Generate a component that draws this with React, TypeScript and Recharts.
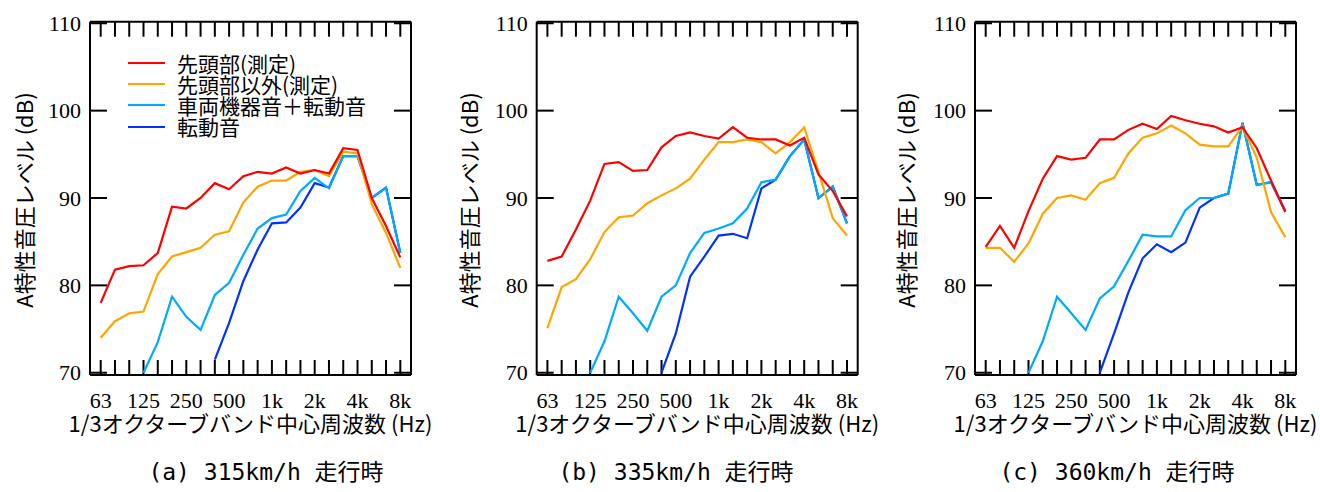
import React from 'react';
import { LineChart, Line, XAxis, YAxis, Legend, ReferenceLine } from 'recharts';

const BANDS = ['63', '80', '100', '125', '160', '200', '250', '315', '400', '500', '630', '800', '1k', '1.25k', '1.6k', '2k', '2.5k', '3.15k', '4k', '5k', '6.3k', '8k'];
const Y_TICKS = [70, 80, 90, 100, 110];

const SERIES_NAMES = ['先頭部(測定)', '先頭部以外(測定)', '車両機器音＋転動音', '転動音'];
const SERIES_COLORS = ['#FF0000', '#FFA500', '#00AAFF', '#0033FF'];

const P1_RED = [78.0, 81.8, 82.2, 82.3, 83.7, 89.0, 88.8, 90.0, 91.7, 91.0, 92.5, 93.0, 92.8, 93.5, 92.8, 93.2, 92.8, 95.7, 95.5, 90.0, 86.8, 83.2];
const P1_ORANGE = [74.0, 75.9, 76.8, 77.0, 81.3, 83.3, 83.8, 84.3, 85.8, 86.2, 89.5, 91.3, 92.0, 92.0, 93.0, 93.2, 92.5, 95.3, 95.1, 89.3, 86.0, 82.0];
const P1_LIGHT = [null, null, null, 70.0, 73.5, 78.7, 76.4, 74.9, 78.9, 80.3, 83.5, 86.5, 87.7, 88.1, 90.8, 92.3, 91.1, 94.8, 94.8, 90.0, 91.2, 83.7];
const P1_DARK = [null, null, null, null, null, null, null, null, 71.5, 75.7, 80.5, 84.1, 87.1, 87.2, 88.9, 91.7, 91.2, 94.8, 94.8, 90.0, 91.2, 83.7];

const P2_RED = [82.8, 83.3, 86.4, 89.7, 93.9, 94.1, 93.1, 93.2, 95.8, 97.1, 97.5, 97.1, 96.8, 98.1, 96.9, 96.7, 96.7, 96.0, 96.9, 92.7, 90.8, 87.9];
const P2_ORANGE = [75.1, 79.8, 80.7, 83.0, 86.1, 87.8, 88.0, 89.4, 90.3, 91.1, 92.2, 94.4, 96.4, 96.4, 96.7, 96.4, 95.1, 96.4, 98.1, 93.0, 87.7, 85.7];
const P2_LIGHT = [null, null, null, 70.0, 73.6, 78.7, 76.8, 74.8, 78.7, 80.0, 83.7, 86.0, 86.5, 87.1, 88.8, 91.8, 92.1, 94.8, 96.7, 90.0, 91.3, 87.1];
const P2_DARK = [null, null, null, null, null, null, null, null, 70.0, 74.5, 81.0, 83.3, 85.7, 85.9, 85.4, 91.1, 92.1, 94.8, 96.7, 90.0, 91.3, 87.1];

const P3_RED = [84.4, 86.8, 84.3, 88.5, 92.2, 94.8, 94.4, 94.6, 96.7, 96.7, 97.8, 98.5, 97.9, 99.4, 98.9, 98.5, 98.2, 97.5, 98.1, 95.7, 92.0, 88.4];
const P3_ORANGE = [84.3, 84.3, 82.7, 84.8, 88.2, 90.0, 90.3, 89.8, 91.7, 92.3, 95.1, 96.9, 97.4, 98.3, 97.4, 96.1, 95.9, 95.9, 98.2, 94.6, 88.4, 85.5];
const P3_LIGHT = [null, null, null, 70.0, 73.6, 78.7, 76.8, 74.9, 78.5, 79.9, 82.8, 85.8, 85.6, 85.6, 88.6, 90.0, 90.0, 90.5, 98.6, 91.5, 91.8, 88.5];
const P3_DARK = [null, null, null, null, null, null, null, null, 70.0, 74.5, 79.2, 83.1, 84.7, 83.8, 84.9, 88.9, 90.0, 90.5, 98.6, 91.5, 91.8, 88.5];

const CAPTIONS = ['(a) 315km/h 走行時', '(b) 335km/h 走行時', '(c) 360km/h 走行時'];
const X_TITLE = '1/3オクターブバンド中心周波数 (Hz)';
const Y_TITLE = 'A特性音圧レベル (dB)';

const PANELS = [
  [P1_RED, P1_ORANGE, P1_LIGHT, P1_DARK],
  [P2_RED, P2_ORANGE, P2_LIGHT, P2_DARK],
  [P3_RED, P3_ORANGE, P3_LIGHT, P3_DARK],
];

// ---- layout (pixels) ----
const FRAME_LEFTS = [90, 536.7, 975];
const CAPTION_CX = [266, 676, 1117];
const YTITLE_CX = [22.5, 467.5, 905];
const PANEL_W = 321;
const PLOT_LEFT = 90;
const PLOT_RIGHT = 1296.7;
const PLOT_TOP = 21.7;
const PLOT_BOTTOM = 375;
const PLOT_H = PLOT_BOTTOM - PLOT_TOP;
const CHART_W = 1320;
const CHART_H = 492;
const X_AXIS_H = 30;
const Y_AXIS_W = 60;
const TICK_SIZE = 6;
const TICK_MARGIN = 2;
const X_TICK_PX = 15;
const Y_TICK_PX = 17;

// ---- one shared scale: each panel occupies 22.5 band units ----
const PANEL_UNITS = 22.5;
const PX_PER_UNIT = PANEL_W / PANEL_UNITS;
const PANEL_OFFSETS = FRAME_LEFTS.map((f) => (f - FRAME_LEFTS[0]) / PX_PER_UNIT);
const X_DOMAIN = [-0.75, (PLOT_RIGHT - PLOT_LEFT) / PX_PER_UNIT - 0.75];
const Y_DOMAIN = [69.74, 110.18];
const PX_PER_DB = PLOT_H / (Y_DOMAIN[1] - Y_DOMAIN[0]);
const X_TICK_LEN = X_TICK_PX / PX_PER_DB;
const Y_TICK_LEN = Y_TICK_PX / PX_PER_UNIT;
const X_TICKS: number[] = [];
PANEL_OFFSETS.forEach((o) => BANDS.forEach((_, i) => X_TICKS.push(o + i)));

const SERIF = "'Liberation Serif', 'Times New Roman', serif";
const SANS = "'Noto Sans CJK JP', 'Noto Sans', sans-serif";

const XTick = (props: any) => {
  const { x, y, index } = props;
  const i = index % BANDS.length;
  const axisY = y - TICK_SIZE - TICK_MARGIN;
  return (
    <g>
      {i % 3 === 0 ? (
        <text x={x} y={axisY + 33} textAnchor="middle" fontFamily={SERIF} fontSize={22} fill="#000">
          {BANDS[i]}
        </text>
      ) : null}
    </g>
  );
};

const YTick = (props: any) => {
  const { x, y, payload } = props;
  const axisX = x + TICK_SIZE + TICK_MARGIN;
  return (
    <g>
      {FRAME_LEFTS.map((f, k) => (
        <text key={k} x={axisX + (f - FRAME_LEFTS[0]) - 9} y={y + 7.5} textAnchor="end" fontFamily={SERIF} fontSize={22} fill="#000">
          {payload.value}
        </text>
      ))}
    </g>
  );
};

const LegendBox = () => (
  <div style={{ fontFamily: SANS, fontSize: 21, color: '#000' }}>
    {SERIES_NAMES.map((n, k) => (
      <div key={n} style={{ display: 'flex', alignItems: 'center', height: 21.1, whiteSpace: 'nowrap' }}>
        <svg width={37} height={6} style={{ display: 'block' }}>
          <line x1={0} x2={37} y1={3} y2={3} stroke={SERIES_COLORS[k]} strokeWidth={2.2} />
        </svg>
        <span style={{ marginLeft: 12, lineHeight: '21px' }}>{n}</span>
      </div>
    ))}
  </div>
);

const DRAW_ORDER = [3, 2, 1, 0];

export default function App() {
  const margin = {
    left: PLOT_LEFT - Y_AXIS_W,
    top: PLOT_TOP,
    right: CHART_W - PLOT_RIGHT,
    bottom: CHART_H - PLOT_BOTTOM - X_AXIS_H,
  };
  const seg = (key: string, a: any, b: any) => (
    <ReferenceLine key={key} segment={[a, b]} stroke="#000" strokeWidth={2} ifOverflow="visible" />
  );
  const marks: any[] = [];
  PANEL_OFFSETS.forEach((o, k) => {
    const l = o - 0.75;
    const r = o + 21.75;
    marks.push(seg('fb' + k, { x: l, y: Y_DOMAIN[0] }, { x: r, y: Y_DOMAIN[0] }));
    marks.push(seg('ft' + k, { x: l, y: Y_DOMAIN[1] }, { x: r, y: Y_DOMAIN[1] }));
    marks.push(seg('fl' + k, { x: l, y: Y_DOMAIN[0] }, { x: l, y: Y_DOMAIN[1] }));
    marks.push(seg('fr' + k, { x: r, y: Y_DOMAIN[0] }, { x: r, y: Y_DOMAIN[1] }));
    BANDS.forEach((_, i) => {
      marks.push(seg('tb' + k + '_' + i, { x: o + i, y: Y_DOMAIN[0] }, { x: o + i, y: Y_DOMAIN[0] + X_TICK_LEN }));
      marks.push(seg('tt' + k + '_' + i, { x: o + i, y: Y_DOMAIN[1] }, { x: o + i, y: Y_DOMAIN[1] - X_TICK_LEN }));
    });
    Y_TICKS.forEach((v) => {
      marks.push(seg('tl' + k + '_' + v, { x: l, y: v }, { x: l + Y_TICK_LEN, y: v }));
      marks.push(seg('tr' + k + '_' + v, { x: r, y: v }, { x: r - Y_TICK_LEN, y: v }));
    });
  });
  const lines: any[] = [];
  PANELS.forEach((series, k) => {
    DRAW_ORDER.forEach((s) => {
      const d = BANDS.map((_, i) => ({ x: PANEL_OFFSETS[k] + i, v: series[s][i] }));
      lines.push(
        <Line
          key={'p' + k + 's' + s}
          data={d}
          dataKey="v"
          name={SERIES_NAMES[s]}
          stroke={SERIES_COLORS[s]}
          strokeWidth={2.2}
          dot={false}
          isAnimationActive={false}
          type="linear"
        />
      );
    });
  });
  return (
    <div style={{ position: 'absolute', left: 0, top: 0, width: 1320, height: 492, background: '#fff', fontFamily: SANS }}>
      <LineChart width={CHART_W} height={CHART_H} margin={margin}>
        <XAxis
          dataKey="x"
          type="number"
          domain={X_DOMAIN}
          ticks={X_TICKS}
          interval={0}
          height={X_AXIS_H}
          tickSize={TICK_SIZE}
          tickMargin={TICK_MARGIN}
          tickLine={false}
          axisLine={false}
          tick={XTick}
        />
        <YAxis
          type="number"
          domain={Y_DOMAIN}
          ticks={Y_TICKS}
          interval={0}
          width={Y_AXIS_W}
          tickSize={TICK_SIZE}
          tickMargin={TICK_MARGIN}
          tickLine={false}
          axisLine={false}
          tick={YTick}
        />
        {marks}
        {lines}
        <Legend
          layout="vertical"
          align="center"
          verticalAlign="middle"
          wrapperStyle={{ left: 128, top: 52.7, width: 300, height: 86 }}
          content={() => <LegendBox />}
        />
      </LineChart>
      {[0, 1, 2].map((i) => (
        <div
          key={'xt' + i}
          style={{
            position: 'absolute',
            left: FRAME_LEFTS[i] + PANEL_W / 2 - 250,
            width: 500,
            top: 411,
            textAlign: 'center',
            fontSize: 22,
            lineHeight: '22px',
            whiteSpace: 'nowrap',
            color: '#000',
          }}
        >
          {X_TITLE}
        </div>
      ))}
      {[0, 1, 2].map((i) => (
        <div
          key={'yt' + i}
          style={{
            position: 'absolute',
            left: YTITLE_CX[i],
            top: 200,
            transform: 'translate(-50%, -50%) rotate(-90deg)',
            fontSize: 22,
            lineHeight: '26px',
            whiteSpace: 'nowrap',
            color: '#000',
          }}
        >
          {Y_TITLE}
        </div>
      ))}
      {[0, 1, 2].map((i) => (
        <div
          key={'cap' + i}
          style={{
            position: 'absolute',
            left: CAPTION_CX[i] - 200,
            width: 400,
            top: 458,
            textAlign: 'center',
            fontSize: 23,
            lineHeight: '28px',
            whiteSpace: 'pre',
            fontFamily: "'DejaVu Sans Mono', 'Noto Sans CJK JP', monospace",
            color: '#000',
          }}
        >
          {CAPTIONS[i]}
        </div>
      ))}
    </div>
  );
}
